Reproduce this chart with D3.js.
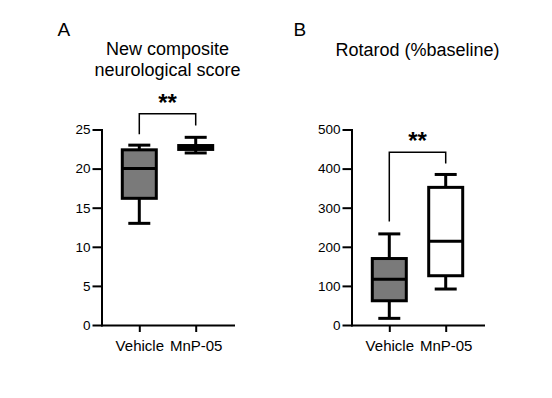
<!DOCTYPE html>
<html>
<head>
<meta charset="utf-8">
<script src="https://cdn.jsdelivr.net/npm/d3@7"></script>
<style>
  body { margin: 0; background: #fff; }
  text { font-family: "Liberation Sans", Arial, sans-serif; fill: #000; }
</style>
</head>
<body>
<svg></svg>
<script>
const width = 552, height = 398;

// data
const groups = ['Vehicle', 'MnP-05'];
const fills = ['#7a7a7a', '#fff'];

// neurological score: [min, q1, median, q3, max]
const scoreStats = [[13, 16.2, 20, 22.4, 23], [22, 22.45, 22.7, 22.95, 24]];
const scoreTicks = [0, 5, 10, 15, 20, 25];
const scoreBracket = { top: 27, left: 24.4, right: 25.5 };

// rotarod %baseline
const rotaStats = [[17, 62, 117, 170, 233], [92, 126, 214, 352, 385]];
const rotaTicks = [0, 100, 200, 300, 400, 500];
const rotaBracket = { top: 442, left: 265, right: 413 };

const svg = d3.select('svg')
    .attr('width', width)
    .attr('height', height)
    .style('background-color', '#fff');

const plotW = 132;
const plotTop = 129.5, plotBottom = 325;

function panel(ox, letter, letterX, titleLines, stats, ticks, domainMax, bracket) {
    const g = svg.append('g').attr('transform', `translate(${ox}, 0)`);

    const x = d3.scalePoint().domain(groups).range([0, plotW]).padding(0.67);
    const y = d3.scaleLinear().domain([0, domainMax]).range([plotBottom, plotTop]);

    // panel letter
    g.append('text')
        .attr('x', letterX)
        .attr('y', 35.5)
        .style('font-size', '19px')
        .text(letter);

    // title
    g.append('text')
        .attr('text-anchor', 'middle')
        .style('font-size', '18px')
        .selectAll('tspan')
        .data(titleLines)
        .join('tspan')
        .attr('x', plotW / 2)
        .attr('y', (d, i) => titleLines.length > 1 ? 54.5 + i * 21 : 55.5)
        .text(d => d);

    // axes
    const yAxis = g.append('g')
        .call(d3.axisLeft(y).tickValues(ticks).tickSize(9).tickPadding(2).tickSizeOuter(0));
    const xAxis = g.append('g')
        .attr('transform', `translate(0, ${plotBottom})`)
        .call(d3.axisBottom(x).tickSize(7).tickPadding(8.5).tickSizeOuter(0));

    [yAxis, xAxis].forEach(a => {
        a.select('.domain').attr('stroke', '#000').attr('stroke-width', 2).attr('stroke-linecap', 'square');
        a.selectAll('.tick line').attr('stroke', '#000').attr('stroke-width', 2);
    });
    yAxis.selectAll('.tick text').style('font-size', '13.5px').attr('font-family', null);
    xAxis.selectAll('.tick text').style('font-size', '15px').attr('font-family', null);

    // boxes
    const boxW = 34, capW = 22;
    const boxes = g.selectAll('.box')
        .data(stats)
        .join('g')
        .attr('class', 'box')
        .attr('transform', (d, i) => `translate(${x(groups[i])}, 0)`);

    boxes.append('line')
        .attr('y1', d => y(d[0])).attr('y2', d => y(d[4]))
        .attr('stroke', '#000').attr('stroke-width', 3);
    boxes.append('line')
        .attr('x1', -capW / 2).attr('x2', capW / 2)
        .attr('y1', d => y(d[0])).attr('y2', d => y(d[0]))
        .attr('stroke', '#000').attr('stroke-width', 3);
    boxes.append('line')
        .attr('x1', -capW / 2).attr('x2', capW / 2)
        .attr('y1', d => y(d[4])).attr('y2', d => y(d[4]))
        .attr('stroke', '#000').attr('stroke-width', 3);
    boxes.append('rect')
        .attr('x', -boxW / 2).attr('width', boxW)
        .attr('y', d => y(d[3]))
        .attr('height', d => y(d[1]) - y(d[3]))
        .attr('fill', (d, i) => fills[i])
        .attr('stroke', '#000').attr('stroke-width', 3);
    boxes.append('line')
        .attr('x1', -boxW / 2).attr('x2', boxW / 2)
        .attr('y1', d => y(d[2])).attr('y2', d => y(d[2]))
        .attr('stroke', '#000').attr('stroke-width', 3);

    // significance bracket
    const x0 = x(groups[0]), x1 = x(groups[1]);
    g.append('path')
        .attr('d', `M${x0},${y(bracket.left)}V${y(bracket.top)}H${x1}V${y(bracket.right)}`)
        .attr('fill', 'none')
        .attr('stroke', '#000')
        .attr('stroke-width', 1.5);
    g.append('text')
        .attr('x', (x0 + x1) / 2)
        .attr('y', y(bracket.top) - 3)
        .attr('text-anchor', 'middle')
        .style('font-size', '24px')
        .style('font-weight', 'bold')
        .text('**');
}

panel(101.5, 'A', -44, ['New composite', 'neurological score'], scoreStats, scoreTicks, 25, scoreBracket);
panel(351.5, 'B', -58, ['Rotarod (%baseline)'], rotaStats, rotaTicks, 500, rotaBracket);
</script>
</body>
</html>
